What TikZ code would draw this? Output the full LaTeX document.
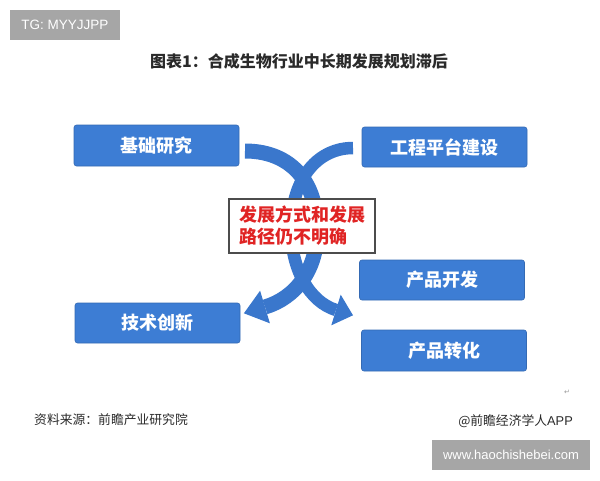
\documentclass[tikz,border=0pt]{standalone}
\usepackage{fontspec}
\setmainfont{Noto Sans CJK SC}
\newfontfamily\latinsans{Liberation Sans}
\newfontfamily\symfont{DejaVu Sans}
\definecolor{boxblue}{HTML}{3D7DD4}
\definecolor{arrblue}{HTML}{3A77CC}
\definecolor{redtxt}{HTML}{E02424}
\definecolor{wmgray}{HTML}{A6A6A6}
\definecolor{darktxt}{HTML}{2A2A2A}
\begin{document}
\begin{tikzpicture}[x=1pt,y=-1pt,
  bluebox/.style={rectangle, rounded corners=2.5pt, fill=boxblue,
    draw=boxblue!85!black, line width=0.6pt, minimum width=165pt,
    minimum height=40pt, inner sep=0pt, text=white,
    font=\fontsize{18}{20}\selectfont\bfseries},
  centerbox/.style={rectangle, fill=white, draw=black!70, line width=1.4pt,
    minimum width=146pt, minimum height=54pt, inner sep=0pt, align=left,
    text=redtxt, font=\fontsize{18}{22}\selectfont\bfseries},
  graybox/.style={rectangle, fill=wmgray, inner sep=0pt, text=white},
  band/.style={draw=arrblue, line cap=butt},
  headfill/.style={fill=arrblue}
]
\useasboundingbox[fill=white] (0,0) rectangle (600,480);

% watermark label top-left
\node[graybox, minimum width=110pt, minimum height=30pt] (tg) at (65,25)
  {\latinsans\fontsize{13.5}{15}\selectfont TG: MYYJJPP};

% title
\node[text=darktxt, inner sep=0pt] (title) at (299,61)
  {\fontsize{16}{18}\selectfont\bfseries 图表1：合成生物行业中长期发展规划滞后};

% crossing arrows
\coordinate (a1s) at (245,151);
\coordinate (a1m) at (317,228);
\coordinate (a1e) at (265,307);
\coordinate (a2s) at (353,148);
\coordinate (a2m) at (291,228);
\coordinate (a2e) at (336,310);

\draw[band, line width=15pt] (a1s) .. controls (285,151) and (316,175) .. (a1m)
  .. controls (318,270) and (295,298) .. (a1e);
\fill[headfill] (243.9,313.3) -- (260.1,290.7) -- (269.9,323.3) -- cycle;

\draw[band, line width=12.5pt] (a2s) .. controls (320,148) and (292,175) .. (a2m)
  .. controls (291,270) and (310,302) .. (a2e);
\fill[headfill] (353,315.3) -- (340.7,294.7) -- (331.3,325.3) -- cycle;

% boxes
\node[bluebox, minimum height=41pt] (jc) at (156.5,145.5) {基础研究};
\node[bluebox] (gc) at (444.5,147) {工程平台建设};
\node[bluebox] (kf) at (442,280) {产品开发};
\node[bluebox] (js) at (157.5,323) {技术创新};
\node[bluebox, minimum height=41pt] (zh) at (444,350.5) {产品转化};

% centre box
\node[centerbox] (mid) at (302,226) {发展方式和发展\\路径仍不明确};

% small return mark
\node[text=black!40, inner sep=0pt] (ret) at (567,392)
  {\symfont\fontsize{7}{8}\selectfont ↵};

% footer
\node[anchor=west, text=darktxt, inner sep=0pt] (src) at (34,420)
  {\fontsize{12.8}{14}\selectfont 资料来源：前瞻产业研究院};
\node[anchor=east, text=darktxt, inner sep=0pt] (app) at (573,421)
  {\fontsize{12.8}{14}\selectfont @前瞻经济学人\latinsans APP};

% watermark bottom-right
\node[graybox, minimum width=158pt, minimum height=30pt] (www) at (511,455)
  {\latinsans\fontsize{13}{15}\selectfont www.haochishebei.com};
\end{tikzpicture}
\end{document}
